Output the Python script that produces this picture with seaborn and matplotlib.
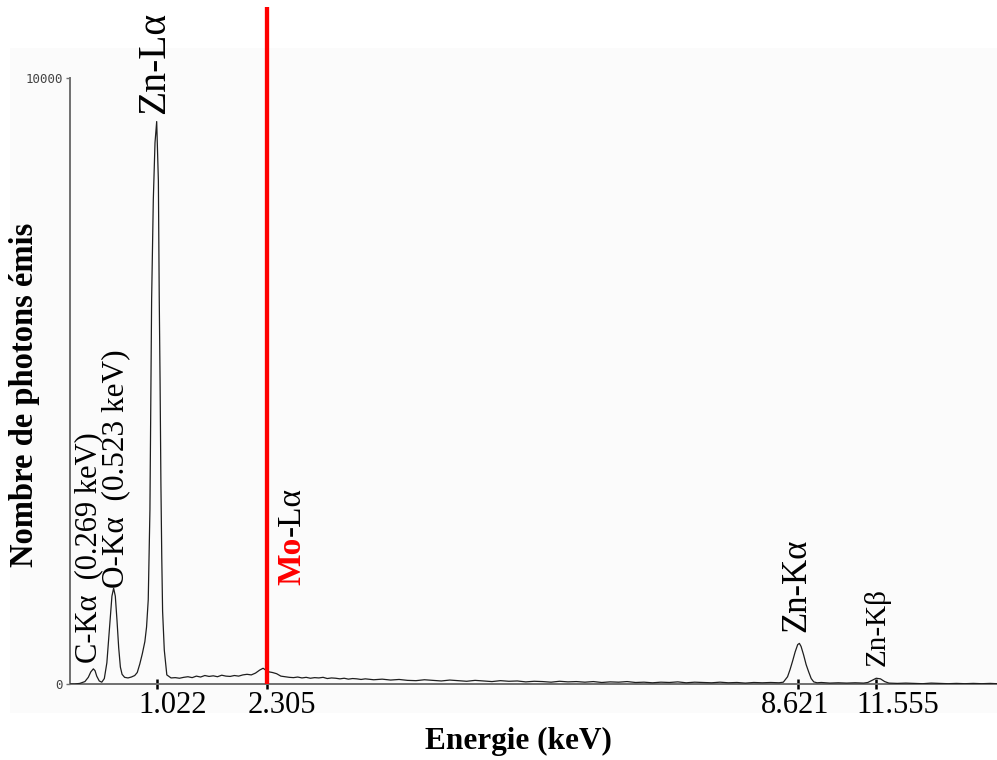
import numpy as np
import pandas as pd
import matplotlib
matplotlib.use("Agg")
import matplotlib.pyplot as plt
import matplotlib.transforms as mtransforms
from matplotlib.patches import Rectangle
import seaborn as sns

# ---------------- data ----------------
energy_kev = [
    0.00, 0.06, 0.12, 0.18, 0.22, 0.25, 0.28, 0.30, 0.32, 0.35, 0.38, 0.41, 0.44, 0.47,
    0.50, 0.52, 0.54, 0.56, 0.58, 0.60, 0.62, 0.65, 0.69, 0.73, 0.77, 0.80, 0.83, 0.86,
    0.89, 0.91, 0.93, 0.95, 0.96, 0.97, 0.99, 1.01, 1.03, 1.05, 1.06, 1.07, 1.08, 1.09,
    1.10, 1.12, 1.15, 1.20, 1.25, 1.30, 1.35, 1.40, 1.45, 1.50, 1.55, 1.60, 1.65, 1.70,
    1.75, 1.80, 1.85, 1.90, 1.95, 2.00, 2.05, 2.10, 2.15, 2.20, 2.25, 2.29, 2.32, 2.36,
    2.40, 2.45, 2.50, 2.55, 2.60, 2.65, 2.70, 2.75, 2.80, 2.85, 2.90, 2.95, 3.00, 3.05,
    3.10, 3.15, 3.20, 3.25, 3.30, 3.35, 3.40, 3.45, 3.50, 3.60, 3.70, 3.80, 3.90, 4.00,
    4.10, 4.20, 4.30, 4.40, 4.50, 4.60, 4.70, 4.80, 4.90, 5.00, 5.10, 5.20, 5.30, 5.40,
    5.50, 5.60, 5.70, 5.80, 5.90, 6.00, 6.10, 6.20, 6.30, 6.40, 6.50, 6.60, 6.70, 6.80,
    6.90, 7.00, 7.10, 7.20, 7.30, 7.40, 7.50, 7.60, 7.70, 7.80, 7.90, 8.00, 8.10, 8.20,
    8.30, 8.40, 8.45, 8.50, 8.53, 8.56, 8.59, 8.62, 8.64, 8.66, 8.69, 8.72, 8.75, 8.78,
    8.81, 8.85, 8.90, 9.00, 9.10, 9.20, 9.30, 9.40, 9.45, 9.50, 9.55, 9.60, 9.65, 9.70,
    9.80, 9.90, 10.00, 10.10, 10.20, 10.30, 10.40, 10.50, 10.60, 10.70, 10.80, 10.90, 10.98,
]
photon_counts = [
    0, 0, 10, 40, 110, 200, 250, 220, 130, 50, 30, 90, 350, 900,
    1450, 1580, 1450, 1050, 600, 280, 160, 110, 100, 115, 140, 190, 330, 500,
    700, 940, 1390, 2870, 4690, 6340, 7990, 8930, 9280, 8300, 6400, 5000, 3300, 2100,
    1200, 560, 150, 100, 105, 95, 110, 120, 105, 130, 115, 140, 125, 135,
    120, 145, 130, 125, 140, 130, 150, 160, 150, 180, 230, 260, 230, 200,
    190, 170, 130, 120, 110, 105, 115, 100, 110, 95, 105, 100, 110, 90,
    100, 95, 85, 95, 80, 90, 85, 75, 85, 70, 80, 65, 75, 60,
    55, 70, 60, 50, 65, 55, 45, 60, 50, 40, 55, 45, 50, 35,
    45, 40, 30, 45, 35, 40, 30, 40, 25, 35, 30, 40, 25, 30,
    20, 30, 25, 35, 20, 30, 25, 20, 30, 20, 25, 15, 25, 20,
    25, 20, 30, 120, 240, 380, 530, 650, 670, 620, 480, 320, 200, 90,
    35, 20, 25, 15, 20, 15, 20, 15, 25, 60, 95, 85, 40, 15,
    10, 15, 10, 5, 15, 10, 5, 10, 5, 10, 5, 10, 5,
]

tick_positions = [1.03, 2.34, 8.62, 9.55]
tick_labels = ["1.022", "2.305", "8.621", "11.555"]

mo_line_kev = 2.34

peak_labels = ["C-Kα  (0.269 keV)", "O-Kα  (0.523 keV)", "Zn-Lα", "Zn-Kα", "Zn-Kβ"]
peak_label_kev = [0.23, 0.55, 1.01, 8.61, 9.56]
peak_label_counts = [350, 1590, 9400, 860, 300]

mo_label_bold = "Mo"
mo_label_rest = "-Lα"

x_title = "Energie (keV)"
y_title = "Nombre de photons émis"
y_ticks = [0, 10000]
y_tick_labels = ["0", "10000"]

# ---------------- figure ----------------
sns.set_theme(style="white")
serif = ["Liberation Serif", "DejaVu Serif"]
plt.rcParams["font.family"] = serif
plt.rcParams["text.color"] = "black"

W, H = 997, 760
fig = plt.figure(figsize=(W / 100, H / 100), dpi=100)
fig.patch.set_facecolor("white")
bg = Rectangle((10 / W, 1 - 713 / H), 987 / W, (713 - 48) / H,
               transform=fig.transFigure, facecolor="#fbfbfb",
               edgecolor="none", zorder=-10)
fig.patches.append(bg)

ax = fig.add_axes([69.7 / W, 76 / H, 927.3 / W, 677 / H])
ax.set_facecolor("none")
ax.set_zorder(1)

df = pd.DataFrame({"energy": energy_kev, "counts": photon_counts})
sns.lineplot(data=df, x="energy", y="counts", ax=ax, color="#1e1e1e", lw=0.9,
             estimator=None, sort=False, zorder=3)

ax.axvline(mo_line_kev, color="#ff0000", lw=3.1, zorder=4)

ax.set_xlim(0, 10.98)
ax.set_ylim(0, 11170)

for s in ["top", "right"]:
    ax.spines[s].set_visible(False)
ax.spines["left"].set_bounds(0, 10000)
ax.spines["left"].set_color("#707070")
ax.spines["left"].set_linewidth(1.4)
ax.spines["bottom"].set_color("#707070")
ax.spines["bottom"].set_linewidth(1.4)

ax.set_yticks(y_ticks)
ax.set_yticklabels(y_tick_labels, family="DejaVu Sans Mono", fontsize=9, color="#444444")
ax.tick_params(axis="y", direction="out", length=3, width=1, color="#707070", pad=2, left=True)

ax.set_xticks(tick_positions)
ax.set_xticklabels([""] * len(tick_positions))
ax.tick_params(axis="x", direction="inout", length=7, width=1.8, color="black", bottom=True)

ax.set_xlabel("")
ax.set_ylabel("")

# x tick labels as text (offset from tick marks as in the reference)
label_dx = [16, 15, -3, 22]
blend = mtransforms.blended_transform_factory(ax.transData, ax.transAxes)
for pos, lab, dx in zip(tick_positions, tick_labels, label_dx):
    tr = mtransforms.offset_copy(blend, fig=fig, x=dx, y=0, units="dots")
    ax.text(pos, -0.032, lab, transform=tr, ha="center", va="center",
            fontsize=22, family=serif, color="black", clip_on=False)

# peak annotations
peak_sizes = [22, 22.5, 28.5, 25, 21]
for lab, xk, yc, fs in zip(peak_labels, peak_label_kev, peak_label_counts, peak_sizes):
    ax.text(xk, yc, lab, rotation=90, ha="center", va="bottom", fontsize=fs,
            family=serif, color="black", zorder=5)

t_mo = ax.text(2.63, 1640, mo_label_bold, rotation=90, ha="center", va="bottom",
               fontsize=24, fontweight="bold", family=serif, color="#ff0000", zorder=5)
ax.annotate(mo_label_rest, xy=(0.5, 1.0), xycoords=t_mo, rotation=90,
            ha="center", va="bottom", fontsize=24, family=serif, color="black",
            annotation_clip=False)

# axis titles
fig.text(518 / W, 1 - 741 / H, x_title, ha="center", va="center", fontsize=22.5,
         fontweight="bold", family=serif, color="black")
fig.text(25 / W, 1 - 395 / H, y_title, ha="center", va="center", fontsize=23.5,
         fontweight="bold", family=serif, rotation=90, color="black")

fig.savefig("out.png", dpi=100)
